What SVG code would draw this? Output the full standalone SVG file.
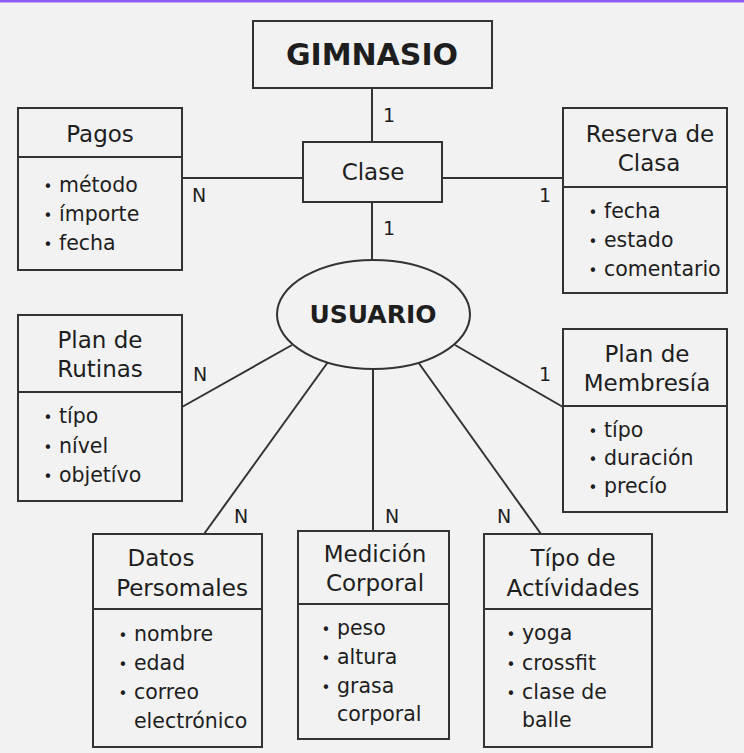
<svg xmlns="http://www.w3.org/2000/svg" width="744" height="753" viewBox="0 0 744 753">
<style>
.bg{fill:#f2f2f2}
.box{fill:#f2f2f2;stroke:#333;stroke-width:2}
.div{stroke:#333;stroke-width:2}
.con{stroke:#333;stroke-width:2;fill:none}
text{font-family:"DejaVu Sans","Liberation Sans",sans-serif;fill:#1e1e1e}
.big{font-size:30px;font-weight:bold;text-anchor:middle}
.usr{font-size:25px;font-weight:bold;text-anchor:middle}
.ttl{font-size:23px;text-anchor:middle}
.itm{font-size:20.5px}
.bul{font-size:15px}
.lbl{font-size:19px;text-anchor:middle}
</style>
<rect class="bg" x="0" y="0" width="744" height="753"/>
<rect x="0" y="0" width="744" height="2.5" fill="#8b5cf6"/>
<g id="connectors">
<line class="con" x1="372" y1="88" x2="372" y2="142"/>
<line class="con" x1="372" y1="202" x2="372" y2="262"/>
<line class="con" x1="182" y1="178" x2="303" y2="178"/>
<line class="con" x1="442" y1="178" x2="563" y2="178"/>
<line class="con" x1="292" y1="345" x2="182" y2="407"/>
<line class="con" x1="455" y1="345" x2="563" y2="407"/>
<line class="con" x1="328" y1="362" x2="204" y2="534"/>
<line class="con" x1="373" y1="366" x2="373" y2="531"/>
<line class="con" x1="418" y1="362" x2="541" y2="534"/>
<text class="lbl" x="389" y="122">1</text>
<text class="lbl" x="389" y="235">1</text>
<text class="lbl" x="199" y="202">N</text>
<text class="lbl" x="545" y="202">1</text>
<text class="lbl" x="200" y="381">N</text>
<text class="lbl" x="545" y="381">1</text>
<text class="lbl" x="241" y="523">N</text>
<text class="lbl" x="392" y="523">N</text>
<text class="lbl" x="504" y="523">N</text>
</g>
<g id="gimnasio">
<rect class="box" x="253" y="21" width="239" height="67"/>
<text class="big" x="372" y="65">GIMNASIO</text>
</g>
<g id="clase">
<rect class="box" x="303" y="142" width="139" height="60"/>
<text class="ttl" x="373" y="180">Clase</text>
</g>
<g id="usuario">
<ellipse class="box" cx="373.5" cy="314.5" rx="96.5" ry="54.5"/>
<text class="usr" x="373" y="323">USUARIO</text>
</g>
<g id="pagos">
<rect class="box" x="18" y="108" width="164" height="162"/>
<line class="div" x1="18" y1="157" x2="182" y2="157"/>
<text class="ttl" x="100" y="142">Pagos</text>
<text class="itm" x="43.6" y="192"><tspan class="bul">•</tspan> método</text>
<text class="itm" x="43.6" y="221"><tspan class="bul">•</tspan> ímporte</text>
<text class="itm" x="43.6" y="250"><tspan class="bul">•</tspan> fecha</text>
</g>
<g id="reserva">
<rect class="box" x="563" y="108" width="164" height="185"/>
<line class="div" x1="563" y1="187" x2="727" y2="187"/>
<text class="ttl" x="650" y="142">Reserva de</text>
<text class="ttl" x="649" y="171">Clasa</text>
<text class="itm" x="588.6" y="218"><tspan class="bul">•</tspan> fecha</text>
<text class="itm" x="588.6" y="247"><tspan class="bul">•</tspan> estado</text>
<text class="itm" x="588.6" y="276"><tspan class="bul">•</tspan> comentario</text>
</g>
<g id="plan-rutinas">
<rect class="box" x="18" y="315" width="164" height="186"/>
<line class="div" x1="18" y1="392" x2="182" y2="392"/>
<text class="ttl" x="100" y="348">Plan de</text>
<text class="ttl" x="100" y="377">Rutinas</text>
<text class="itm" x="43.6" y="423"><tspan class="bul">•</tspan> típo</text>
<text class="itm" x="43.6" y="453"><tspan class="bul">•</tspan> nível</text>
<text class="itm" x="43.6" y="482"><tspan class="bul">•</tspan> objetívo</text>
</g>
<g id="plan-membresia">
<rect class="box" x="563" y="329" width="164" height="183"/>
<line class="div" x1="563" y1="406" x2="727" y2="406"/>
<text class="ttl" x="647" y="362">Plan de</text>
<text class="ttl" x="647" y="391">Membresía</text>
<text class="itm" x="588.6" y="437"><tspan class="bul">•</tspan> típo</text>
<text class="itm" x="588.6" y="465"><tspan class="bul">•</tspan> duración</text>
<text class="itm" x="588.6" y="493"><tspan class="bul">•</tspan> precío</text>
</g>
<g id="datos-personales">
<rect class="box" x="93" y="534" width="169" height="213"/>
<line class="div" x1="93" y1="609" x2="262" y2="609"/>
<text class="ttl" x="161" y="566">Datos</text>
<text class="ttl" x="182" y="596">Persomales</text>
<text class="itm" x="118.6" y="641"><tspan class="bul">•</tspan> nombre</text>
<text class="itm" x="118.6" y="670"><tspan class="bul">•</tspan> edad</text>
<text class="itm" x="118.6" y="699"><tspan class="bul">•</tspan> correo</text>
<text class="itm" x="134" y="728">electrónico</text>
</g>
<g id="medicion-corporal">
<rect class="box" x="298" y="531" width="151" height="208"/>
<line class="div" x1="298" y1="604" x2="449" y2="604"/>
<text class="ttl" x="375" y="562">Medición</text>
<text class="ttl" x="375" y="591">Corporal</text>
<text class="itm" x="321.6" y="635"><tspan class="bul">•</tspan> peso</text>
<text class="itm" x="321.6" y="664"><tspan class="bul">•</tspan> altura</text>
<text class="itm" x="321.6" y="693"><tspan class="bul">•</tspan> grasa</text>
<text class="itm" x="337" y="721">corporal</text>
</g>
<g id="tipo-actividades">
<rect class="box" x="484" y="534" width="168" height="213"/>
<line class="div" x1="484" y1="609" x2="652" y2="609"/>
<text class="ttl" x="573" y="566">Típo de</text>
<text class="ttl" x="573" y="596">Actívidades</text>
<text class="itm" x="506.6" y="640"><tspan class="bul">•</tspan> yoga</text>
<text class="itm" x="506.6" y="670"><tspan class="bul">•</tspan> crossfit</text>
<text class="itm" x="506.6" y="699"><tspan class="bul">•</tspan> clase de</text>
<text class="itm" x="522" y="727">balle</text>
</g>
</svg>
